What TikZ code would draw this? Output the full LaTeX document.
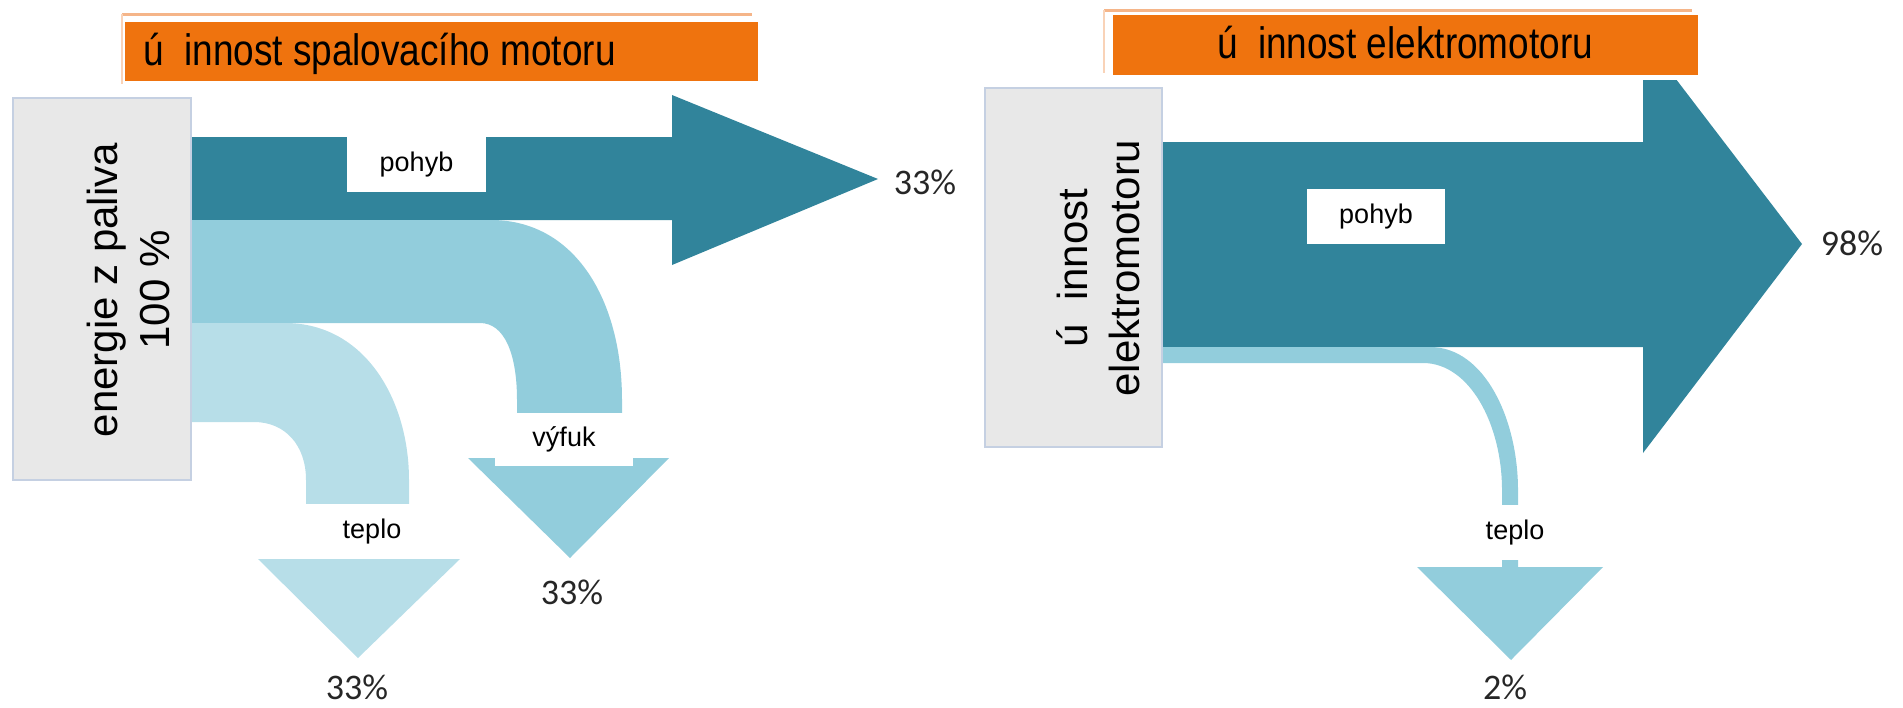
\documentclass[tikz,border=0pt]{standalone}
\usepackage{fontspec}
\setmainfont{Liberation Sans}
\newfontfamily\narrowfont[FakeStretch=0.84]{Liberation Sans}
\newfontfamily\pctfont{Carlito}
\definecolor{tealdark}{HTML}{31849B}
\definecolor{tealmid}{HTML}{92CDDC}
\definecolor{teallight}{HTML}{B7DEE8}
\definecolor{titleorange}{HTML}{EF730E}
\definecolor{titleline}{HTML}{F5B589}
\definecolor{boxgray}{HTML}{E8E8E8}
\definecolor{boxedge}{HTML}{C5D0E2}
\definecolor{pctgray}{HTML}{262626}

\begin{document}
\begin{tikzpicture}[x=1pt,y=-1pt]
\tikzstyle{every node}+=[inner sep=0pt]
\tikzstyle{lab}=[fill=white, font=\fontsize{27}{30}\selectfont]
\tikzstyle{pct}=[text=pctgray, font=\pctfont\fontsize{36}{38}\selectfont]
\tikzstyle{side}=[rotate=90, align=center, font=\fontsize{42}{52}\selectfont]
\tikzstyle{title}=[font=\narrowfont\fontsize{44}{50}\selectfont]
\tikzstyle{graybox}=[fill=boxgray, draw=boxedge, line width=1.5]
\useasboundingbox (0,0) rectangle (1903,707);
\fill [tealdark] (190,137) -- (672,137) -- (672,95) -- (878,179) -- (672,265) -- (672,220) -- (190,220) -- cycle;
\fill [tealmid] (190,220) -- (491,220) .. controls (575,220) and (622,300) .. (622,400) -- (622,460) -- (517,460) -- (517,400) .. controls (517,355) and (505,323) .. (480,323) -- (190,323) -- cycle;
\fill [tealmid] (468,458) -- (669,458) -- (570,558) -- cycle;
\fill [teallight] (190,323) -- (285,323) .. controls (365,323) and (409,400) .. (409,480) -- (409,561) -- (306,561) -- (306,480) .. controls (306,445) and (285,422) .. (254,422) -- (190,422) -- cycle;
\fill [teallight] (258,559) -- (460,559) -- (358,658) -- cycle;
\fill [tealdark] (1162,142) -- (1643,142) -- (1643,36) -- (1802,244) -- (1643,453) -- (1643,347) -- (1162,347) -- cycle;
\fill [tealmid] (1162,347) -- (1430,347) .. controls (1485,347) and (1518,420) .. (1518,490) -- (1518,568) -- (1502,568) -- (1502,490) .. controls (1502,425) and (1470,363) .. (1423,363) -- (1162,363) -- cycle;
\fill [tealmid] (1417,567) -- (1603,567) -- (1511,660) -- cycle;
\node [lab, minimum width=139, minimum height=55] (pohybA) at (416.5,164.5) {pohyb};
\node [lab, minimum width=138, minimum height=53] (vyfuk) at (564,439.5) {výfuk};
\node [lab, minimum width=140, minimum height=55] (teploA) at (372,531.5) {teplo};
\node [lab, minimum width=138, minimum height=55] (pohybB) at (1376,216.5) {pohyb};
\node [lab, minimum width=150, minimum height=55] (teploB) at (1515,532.5) {teplo};
\draw [graybox] (13,98) rectangle (191,480);
\node [side] (fuel) at (128,290) {energie z paliva\\100 \%};
\draw [graybox] (985,88) rectangle (1162,447);
\node [side] (motor) at (1098,268) {ú~~innost\\elektromotoru};
\fill [white] (121,18) rectangle (762,85);
\fill [titleorange] (125,22) rectangle (758,81);
\draw [titleline, line width=3] (122,14) -- (752,14);
\draw [titleline!60, line width=1.5] (122,14) -- (122,84);
\node [title, anchor=base west] (titleA) at (143,65) {ú~~innost spalovacího motoru};
\fill [white] (1108,10) rectangle (1703,80);
\fill [titleorange] (1113,15) rectangle (1698,75);
\draw [titleline, line width=3] (1104,10) -- (1692,10);
\draw [titleline!60, line width=1.5] (1104,10) -- (1104,73);
\node [title, anchor=base] (titleB) at (1405,58) {ú~~innost elektromotoru};
\node [pct] (pctA) at (925,182) {33\%};
\node [pct] (pctB) at (572,592) {33\%};
\node [pct] (pctC) at (357,687) {33\%};
\node [pct] (pctD) at (1852,243) {98\%};
\node [pct] (pctE) at (1505,687) {2\%};
\end{tikzpicture}
\end{document}
